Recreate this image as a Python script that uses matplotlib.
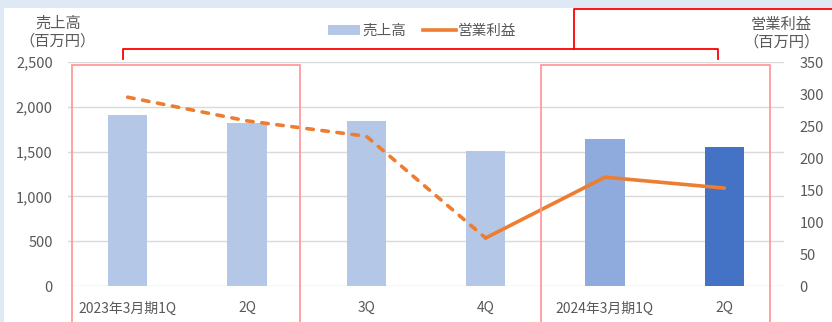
import matplotlib
matplotlib.use("Agg")
import matplotlib.pyplot as plt
from matplotlib.lines import Line2D
from matplotlib.patches import Rectangle, Patch

plt.rcParams["font.family"] = ["Noto Sans CJK JP", "DejaVu Sans"]

# --- данные -----------------------------------------------------------------
categories = ["2023年3月期1Q", "2Q", "3Q", "4Q", "2024年3月期1Q", "2Q"]
sales = [1910, 1820, 1840, 1505, 1640, 1550]          # 売上高, 百万円
profit = [295, 258, 234, 75, 170, 153]                 # 営業利益, 百万円
bar_colors = ["#B4C7E7", "#B4C7E7", "#B4C7E7", "#B4C7E7", "#8FAADC", "#4472C4"]
left_ticks = [0, 500, 1000, 1500, 2000, 2500]
right_ticks = [0, 50, 100, 150, 200, 250, 300, 350]

W, H = 832, 322
TXT = "#595959"
ORANGE = "#ED7D31"
PINK = "#FF9A9A"
RED = "#FF0000"


def fx(px):
    return px / W


def fy(py):
    return 1 - py / H


fig = plt.figure(figsize=(W / 100, H / 100), dpi=100, facecolor="#DEE9F5")
# белая подложка (под осями)
fig.patches.append(Rectangle((fx(4), 0), 1, fy(8), transform=fig.transFigure,
                             facecolor="white", edgecolor="none", zorder=-1))

ax = fig.add_axes([fx(68), fy(286), fx(784) - fx(68), fy(62) - fy(286)])
ax.set_facecolor("none")
x = list(range(len(categories)))
ax.bar(x, sales, width=0.33, color=bar_colors, zorder=2)
ax.set_ylim(0, 2500)
ax.set_xlim(-0.5, len(categories) - 0.5)
ax.set_yticks(left_ticks)
ax.set_yticklabels([f"{v:,}" for v in left_ticks])
ax.grid(axis="y", color="#D9D9D9", lw=1)
ax.set_axisbelow(True)
ax.set_xticks(x)
ax.set_xticklabels(categories)
ax.tick_params(axis="x", length=0, pad=11, labelsize=10, labelcolor=TXT)
ax.tick_params(axis="y", length=0, pad=11, labelsize=10.5, labelcolor=TXT)
for s in ax.spines.values():
    s.set_visible(False)

ax2 = ax.twinx()
ax2.plot(x[:4], profit[:4], color=ORANGE, lw=2.6, dashes=(1.8, 2.4),
         dash_capstyle="round", solid_capstyle="round")
ax2.plot(x[3:], profit[3:], color=ORANGE, lw=2.6, solid_capstyle="round")
ax2.set_ylim(0, 350)
ax2.set_yticks(right_ticks)
ax2.tick_params(axis="y", length=0, pad=11, labelsize=10.5, labelcolor=TXT)
for s in ax2.spines.values():
    s.set_visible(False)

# заголовки осей
fig.text(fx(58), fy(23), "売上高", ha="center", va="center", fontsize=11, color=TXT)
fig.text(fx(58), fy(41), "（百万円）", ha="center", va="center", fontsize=11, color=TXT)
fig.text(fx(781), fy(24), "営業利益", ha="center", va="center", fontsize=11, color=TXT)
fig.text(fx(781), fy(42), "（百万円）", ha="center", va="center", fontsize=11, color=TXT)

# легенда
handles = [Patch(facecolor="#B4C7E7", edgecolor="none"),
           Line2D([], [], color=ORANGE, lw=2.6)]
fig.legend(handles, ["売上高", "営業利益"], loc="center", bbox_to_anchor=(fx(422), fy(31)),
           ncol=2, frameon=False, fontsize=10.5, labelcolor=TXT, handlelength=2.2,
           handleheight=0.7, handletextpad=0.15, columnspacing=1.2)

# розовые рамки периодов
for x0, x1 in [(72, 300), (541, 770)]:
    fig.patches.append(Rectangle((fx(x0), -0.1), fx(x1) - fx(x0), fy(65) + 0.1,
                                 transform=fig.transFigure, fill=False,
                                 edgecolor=PINK, lw=1.3, zorder=5))

# красные скобки
fig.add_artist(Line2D([fx(123), fx(123), fx(718), fx(718)],
                      [fy(59), fy(49), fy(49), fy(59)],
                      transform=fig.transFigure, color=RED, lw=1.3))
fig.add_artist(Line2D([fx(574), fx(574), fx(840)],
                      [fy(49), fy(8.5), fy(8.5)],
                      transform=fig.transFigure, color=RED, lw=1.3))

fig.savefig("out.png", dpi=100)
